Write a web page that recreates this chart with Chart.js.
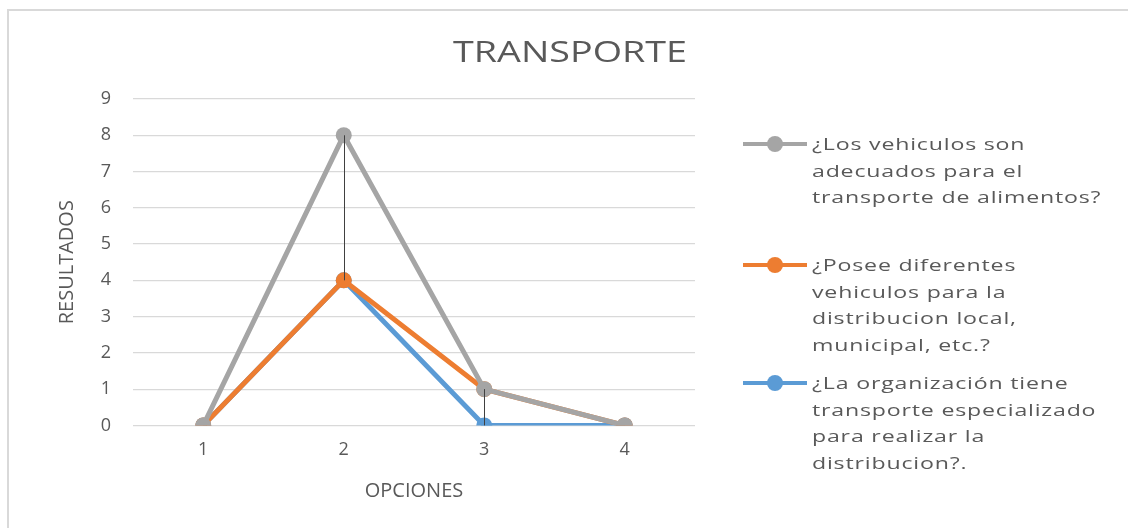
<!DOCTYPE html>
<html>
<head>
<meta charset="utf-8">
<script src="https://cdn.jsdelivr.net/npm/chart.js@4.4.1/dist/chart.umd.min.js"></script>
<style>
    body { margin: 0; background: #fff; }
    #wrap { position: relative; width: 1128px; height: 528px; overflow: hidden; }
    #frame { position: absolute; left: 7px; top: 9px; width: 1140px; height: 540px;
             border-top: 2px solid #d9d9d9; border-left: 2px solid #d9d9d9; }
    #titulo { position: absolute; left: 570px; top: 50px; font-family: "Open Sans", sans-serif;
              font-size: 29px; color: #595959; white-space: nowrap; line-height: 1;
              transform: translate(-50%, -50%) scaleX(1.3); }
    #legend { position: absolute; left: 743px; top: 0; font-family: "Open Sans", sans-serif;
              font-size: 17px; color: #595959; letter-spacing: 0.6px; }
    .item { position: absolute; left: 0; width: 380px; }
    .item .txt { position: absolute; left: 69px; top: 0; line-height: 26.5px; white-space: nowrap;
                 transform: scaleX(1.36); transform-origin: left top; }
    .item .sym { position: absolute; left: 0; top: 11px; width: 64px; height: 4px; }
    .item .dot { position: absolute; left: 24px; top: -6px; width: 16px; height: 16px; border-radius: 50%; }
</style>
</head>
<body>
<div id="wrap">
    <div id="frame"></div>
    <canvas id="chart1" width="1128" height="528"></canvas>
    <div id="titulo">TRANSPORTE</div>
    <div id="legend"></div>
</div>
<script>
// datos
var opciones = ['1', '2', '3', '4'];
var vehiculosAdecuados = [0, 8, 1, 0];
var vehiculosDiferentes = [0, 4, 1, 0];
var transporteEspecializado = [0, 4, 0, 0];

var nombres = [
    ['¿Los vehiculos son', 'adecuados para el', 'transporte de alimentos?'],
    ['¿Posee diferentes', 'vehiculos para la', 'distribucion local,', 'municipal, etc.?'],
    ['¿La organización tiene', 'transporte especializado', 'para realizar la', 'distribucion?.']
];
var colores = ['#A5A5A5', '#ED7D31', '#5B9BD5'];
var legendTops = [131, 252, 370];

// lineas de maximo a minimo en cada opcion
var highLowLines = {
    id: 'highLowLines',
    afterDatasetsDraw: function (chart) {
        var ctx = chart.ctx;
        var x = chart.scales.x, y = chart.scales.y;
        ctx.save();
        ctx.strokeStyle = '#404040';
        ctx.lineWidth = 1;
        opciones.forEach(function (op, i) {
            var vals = chart.data.datasets.map(function (d) { return d.data[i]; });
            var hi = Math.max.apply(null, vals), lo = Math.min.apply(null, vals);
            if (hi == lo) return;
            var px = Math.round(x.getPixelForValue(i)) + 0.5;
            ctx.beginPath();
            ctx.moveTo(px, y.getPixelForValue(hi));
            ctx.lineTo(px, y.getPixelForValue(lo));
            ctx.stroke();
        });
        ctx.restore();
    }
};

var font = 'Open Sans';
var ctx1 = document.getElementById('chart1').getContext('2d');
var chart1 = new Chart(ctx1, {
    type: 'line',
    data: {
        labels: opciones,
        datasets: [vehiculosAdecuados, vehiculosDiferentes, transporteEspecializado].map(function (d, i) {
            return {
                label: nombres[i].join(' '),
                data: d,
                borderColor: colores[i],
                backgroundColor: colores[i],
                borderWidth: 5,
                pointRadius: 8,
                pointBorderWidth: 0,
                tension: 0
            };
        })
    },
    options: {
        responsive: false,
        animation: false,
        layout: { padding: { left: 40, right: 433, top: 99, bottom: 23 } },
        plugins: {
            legend: { display: false },
            tooltip: { enabled: false }
        },
        scales: {
            x: {
                offset: true,
                grid: { display: false, drawTicks: false },
                border: { display: false },
                ticks: { color: '#595959', font: { family: font, size: 18 }, padding: 14 },
                title: {
                    display: true, text: 'OPCIONES', color: '#595959',
                    font: { family: font, size: 20 }, padding: { top: 4, bottom: 2 }
                }
            },
            y: {
                min: 0, max: 9,
                afterFit: function (s) { s.width = 93; },
                grid: { color: '#d9d9d9', lineWidth: 1.2, drawTicks: false },
                border: { display: false },
                ticks: { stepSize: 1, color: '#595959', font: { family: font, size: 18 }, padding: 22 },
                title: {
                    display: true, text: 'RESULTADOS', color: '#595959',
                    font: { family: font, size: 20 }, padding: { top: 15, bottom: 0 }
                }
            }
        }
    },
    plugins: [highLowLines]
});

// leyenda a la derecha
var legend = document.getElementById('legend');
nombres.forEach(function (lines, i) {
    var item = document.createElement('div');
    item.className = 'item';
    item.style.top = legendTops[i] + 'px';
    item.innerHTML = '<div class="sym" style="background:' + colores[i] + '"><div class="dot" style="background:' + colores[i] + '"></div></div>' +
        '<div class="txt">' + lines.join('<br>') + '</div>';
    legend.appendChild(item);
});
</script>
</body>
</html>
